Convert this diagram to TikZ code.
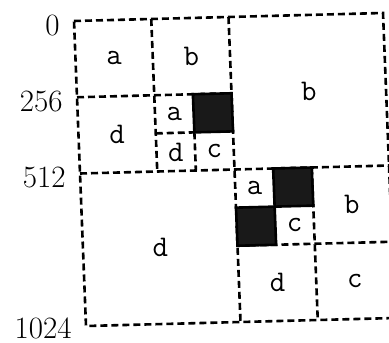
\documentclass[tikz,border=0pt]{standalone}
\begin{document}
\begin{tikzpicture}[
    grid line/.style={line width=1.3pt, dash pattern=on 3.5pt off 2pt},
    black cell/.style={fill=black!90, draw=black, line width=1.3pt},
    cell/.style={font=\fontsize{15}{18}\selectfont\ttfamily, inner sep=0pt},
    axis label/.style={font=\fontsize{15.5}{18}\selectfont, anchor=east, inner sep=0pt}]
  % Bounding box
  \useasboundingbox (0,0) rectangle (194.5pt,-171pt);
  \clip (0,0) rectangle (194.5pt,-171pt);

  % Grid: one unit is 256, slightly tilted like the scan
  \begin{scope}[shift={(37pt,-10.5pt)}, x={(38.625pt,1pt)}, y={(1.5pt,-38.125pt)}]
    % Outer frame and first split
    \draw[grid line] (0,0) -- (4,0) -- (4,4) -- (0,4) -- cycle;
    \draw[grid line] (0,2) -- (4,2);
    \draw[grid line] (2,0) -- (2,4);

    % Upper left quarter
    \draw[grid line] (0,1) -- (2,1);
    \draw[grid line] (1,0) -- (1,2);
    \draw[grid line] (1,1.5) -- (1.5,1.5);
    \draw[grid line] (1.5,1.5) -- (1.5,2);

    % Lower right quarter
    \draw[grid line] (2,3) -- (4,3);
    \draw[grid line] (3,2) -- (3,4);

    % Black cells
    \filldraw[black cell] (1.5,1) -- (2,1) -- (2,1.5) -- (1.5,1.5) -- cycle;
    \filldraw[black cell] (2.5,2) -- (3,2) -- (3,2.5) -- (2.5,2.5) -- cycle;
    \filldraw[black cell] (2,2.5) -- (2.5,2.5) -- (2.5,3) -- (2,3) -- cycle;

    % Cell letters
    \node[cell] (tla)  at (0.5,0.5)   {a};
    \node[cell] (tlb)  at (1.5,0.5)   {b};
    \node[cell] (tld)  at (0.5,1.5)   {d};
    \node[cell] (ina)  at (1.25,1.25) {a};
    \node[cell] (ind)  at (1.25,1.75) {d};
    \node[cell] (inc)  at (1.75,1.75) {c};
    \node[cell] (trb)  at (3,1)       {b};
    \node[cell] (bld)  at (1,3)       {d};
    \node[cell] (bra)  at (2.25,2.25) {a};
    \node[cell] (brc)  at (2.75,2.75) {c};
    \node[cell] (brb)  at (3.5,2.5)   {b};
    \node[cell] (brd)  at (2.5,3.5)   {d};
    \node[cell] (brcc) at (3.5,3.5)   {c};

    % Axis labels
    \node[axis label, xshift=-7pt, yshift=-2.5pt] (l0)    at (0,0) {0};
    \node[axis label, xshift=-7pt, yshift=-2pt]   (l256)  at (0,1) {256};
    \node[axis label, xshift=-7pt, yshift=-2pt]   (l512)  at (0,2) {512};
    \node[axis label, xshift=-7pt, yshift=-1pt]   (l1024) at (0,4) {1024};
  \end{scope}
\end{tikzpicture}
\end{document}
